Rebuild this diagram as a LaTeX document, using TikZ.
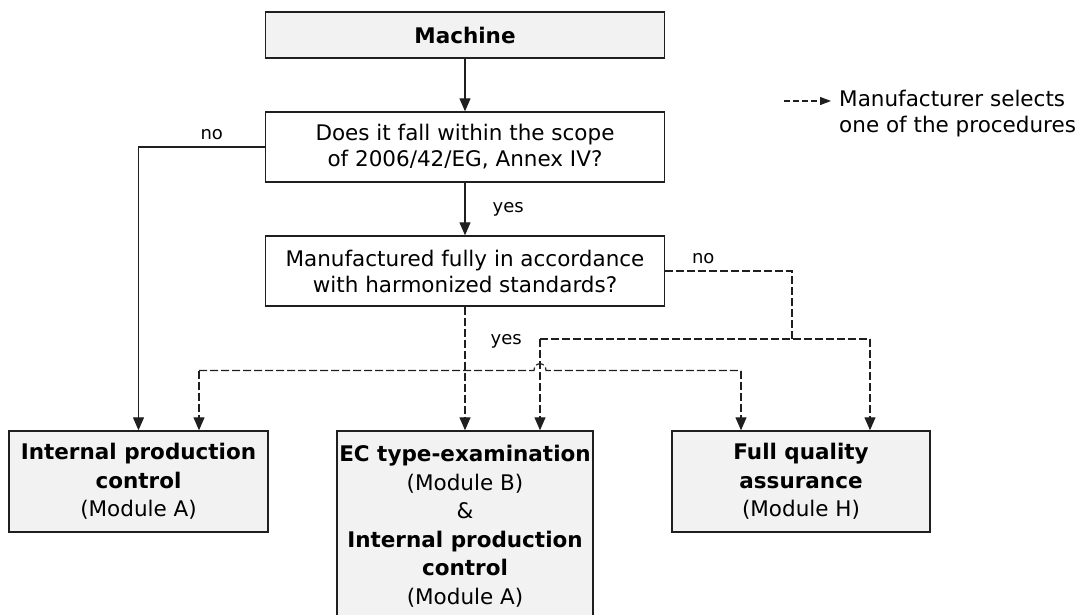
\documentclass[tikz,border=0pt]{standalone}
\usepackage{fontspec}
\setmainfont{DejaVu Sans}
\usetikzlibrary{arrows.meta}
\definecolor{boxfill}{HTML}{F2F2F2}
\definecolor{linegray}{HTML}{1F1F1F}

\begin{document}
\begin{tikzpicture}[x=1pt,y=-1pt,>={Triangle[length=13pt,width=11pt]},
  box/.style={draw=linegray,line width=1.4pt,fill=boxfill,align=center,inner sep=0pt,font=\fontsize{21.5}{28.5}\selectfont},
  ques/.style={box,fill=white,font=\fontsize{21.5}{26}\selectfont},
  flow/.style={draw=linegray,line width=1.2pt},
  sel/.style={flow,dash pattern=on 8pt off 3pt},
  lab/.style={font=\fontsize{18}{20}\selectfont,inner sep=1pt}]
  \useasboundingbox (0,0) rectangle (1084,615);
  \node[box,minimum width=399pt,minimum height=46pt] (machine) at (465,35) {\textbf{Machine}};
  \node[ques,minimum width=399pt,minimum height=70pt] (scope) at (465,147) {Does it fall within the scope\\of 2006/42/EG, Annex IV?};
  \node[ques,minimum width=399pt,minimum height=70pt] (harm) at (465,271) {Manufactured fully in accordance\\with harmonized standards?};
  \node[box,minimum width=259pt,minimum height=101pt] (modA) at (138.5,481.5) {\textbf{Internal production}\\\textbf{control}\\(Module A)};
  \node[box,minimum width=256pt,minimum height=190pt] (modB) at (465,526) {\textbf{EC type-examination}\\(Module B)\\\&\\\textbf{Internal production}\\\textbf{control}\\(Module A)};
  \node[box,minimum width=258pt,minimum height=101pt] (modH) at (801,481.5) {\textbf{Full quality}\\\textbf{assurance}\\(Module H)};
  \draw[flow,->] (machine) -- (scope);
  \draw[flow,->] (scope.west) -| node[lab,pos=0.21,above=6pt] {no} (modA.north);
  \draw[flow,->] (scope) -- node[lab,right=26pt] {yes} (harm);
  % not fully harmonized
  \coordinate (split) at (792,339);
  \coordinate (toB) at (540,339);
  \coordinate (toH) at (870,339);
  \draw[sel] (harm.east) -| node[lab,pos=0.15,above=6pt] {no} (split);
  \draw[sel] (toB) -- (toH);
  \draw[sel,->] (toB) -- (toB |- modB.north);
  \draw[sel,->] (toH) -- (toH |- modH.north);
  % harmonized
  \coordinate (toA) at (199,370.5);
  \coordinate (toH2) at (741,370.5);
  \draw[sel,->] (harm.south) -- node[lab,pos=0.28,right=24pt] {yes} (modB.north);
  \draw[sel] (toA) -- (534,370.5) .. controls (534,361.5) and (546,361.5) .. (546,370.5) -- (toH2);
  \draw[sel,->] (toA) -- (toA |- modA.north);
  \draw[sel,->] (toH2) -- (toH2 |- modH.north);
  % legend
  \coordinate (legS) at (784,101);
  \coordinate (legE) at (831,101);
  \draw[flow,dash pattern=on 6pt off 3pt,-{Triangle[length=11pt,width=8pt]}] (legS) -- (legE);
  \node[anchor=west,align=left,inner sep=0pt,font=\fontsize{21.5}{26}\selectfont] (legend) at (839,114) {Manufacturer selects\\one of the procedures};
\end{tikzpicture}
\end{document}
